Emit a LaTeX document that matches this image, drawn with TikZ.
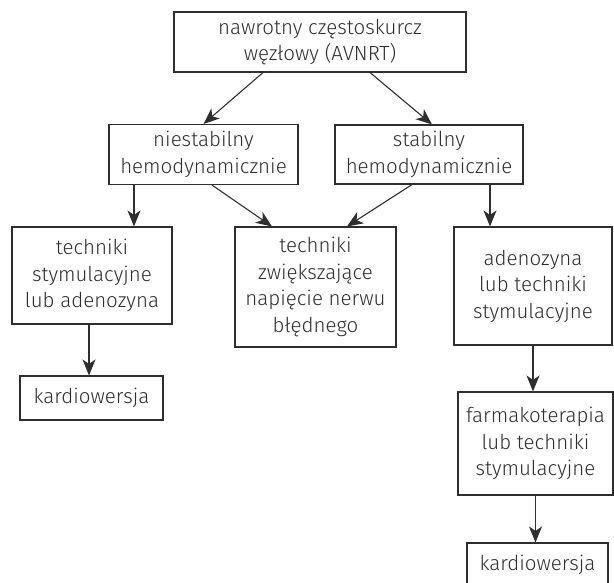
\documentclass[tikz,border=0pt]{standalone}
\usepackage{fontspec}
\setmainfont{Fira Sans}[UprightFont=* Light]
\usetikzlibrary{arrows.meta}
\definecolor{ink}{HTML}{2E2E2E}
\begin{document}
\begin{tikzpicture}[x=1pt,y=-1pt,
  box/.style={draw=ink, line width=1.1pt, inner sep=0pt, align=center,
    font=\fontsize{20.5}{26.5}\selectfont, text=ink},
  arr/.style={draw=ink, line width=1.1pt, -{Stealth[length=16pt,width=13pt,inset=4.5pt]}}]
\useasboundingbox (0,0) rectangle (614,582);
\node[box, minimum width=292pt, minimum height=60pt] (top) at (320,42) {nawrotny częstoskurcz\\węzłowy (AVNRT)};
\node[box, minimum width=189pt, minimum height=60pt] (nie) at (203.5,154.5) {niestabilny\\hemodynamicznie};
\node[box, minimum width=188pt, minimum height=59pt] (sta) at (429,154.5) {stabilny\\hemodynamicznie};
\node[box, minimum width=160pt, minimum height=97pt] (tsl) at (92,275.5) {techniki\\stymulacyjne\\lub adenozyna};
\node[box, minimum width=143pt, minimum height=44pt] (k1) at (91.5,398) {kardiowersja};
\node[box, minimum width=161pt, minimum height=120pt] (mid) at (315.5,287) {techniki\\zwiększające\\napięcie nerwu\\błędnego};
\node[box, minimum width=158pt, minimum height=118pt] (ad) at (533,286) {adenozyna\\lub techniki\\stymulacyjne};
\node[box, minimum width=155pt, minimum height=103pt] (far) at (535.5,443.5) {farmakoterapia\\lub techniki\\stymulacyjne};
\node[box, minimum width=141pt, minimum height=44pt] (k2) at (537.5,565) {kardiowersja};
\draw[arr] ([xshift=-57pt]top.south) -- (nie.north);
\draw[arr] ([xshift=50pt]top.south) -- ([xshift=3pt]sta.north);
\draw[arr] ([xshift=-69.5pt]nie.south) -- ([xshift=42pt]tsl.north);
\draw[arr] ([xshift=8.5pt]nie.south) -- ([xshift=-43.5pt]mid.north);
\draw[arr] ([xshift=-17pt]sta.south) -- ([xshift=31.5pt]mid.north);
\draw[arr] ([xshift=61pt]sta.south) -- ([xshift=-43pt]ad.north);
\draw[arr] ([xshift=-3pt]tsl.south) -- ([xshift=-2.5pt]k1.north);
\draw[arr] (ad.south) -- (ad.south |- far.north);
\draw[arr] (far.south) -- (far.south |- k2.north);
\end{tikzpicture}
\end{document}
